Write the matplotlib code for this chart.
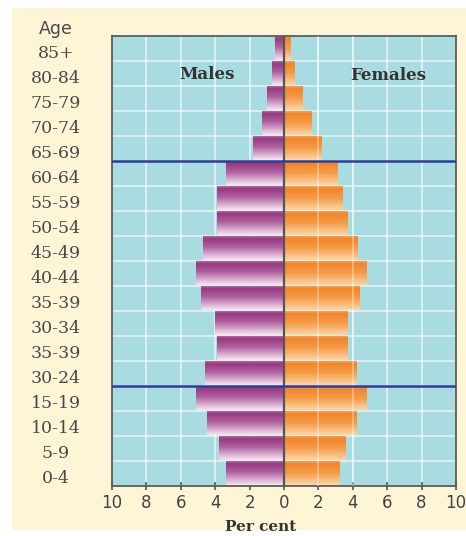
import numpy as np
import matplotlib
matplotlib.use("Agg")
import matplotlib.pyplot as plt
from matplotlib.colors import LinearSegmentedColormap
from matplotlib.patches import Rectangle
import matplotlib.transforms as mtransforms

# age groups from bottom to top (labels as printed in the source)
age_groups = ["0-4", "5-9", "10-14", "15-19", "30-24", "35-39", "30-34", "35-39",
              "40-44", "45-49", "50-54", "55-59", "60-64", "65-69", "70-74",
              "75-79", "80-84", "85+"]
males = [3.4, 3.8, 4.5, 5.1, 4.6, 3.9, 4.0, 4.8, 5.1, 4.7, 3.9, 3.9, 3.4,
         1.8, 1.3, 1.0, 0.7, 0.5]
females = [3.2, 3.6, 4.2, 4.8, 4.2, 3.7, 3.7, 4.4, 4.8, 4.3, 3.7, 3.4, 3.1,
           2.2, 1.6, 1.1, 0.6, 0.4]
xticks = [-10, -8, -6, -4, -2, 0, 2, 4, 6, 8, 10]
divider_rows = [12.5, 3.5]   # above 60-64 and above 10-14

male_cmap = LinearSegmentedColormap.from_list(
    "m", [(0, "#b56aa3"), (0.1, "#98387f"), (0.45, "#b0609e"), (1, "#f5e6f1")])
female_cmap = LinearSegmentedColormap.from_list(
    "f", [(0, "#f7a050"), (0.1, "#f2852a"), (0.5, "#f59c48"), (1, "#fcd5a8")])

fig = plt.figure(figsize=(4.66, 5.36), dpi=100)
fig.patch.set_facecolor("white")
fig.patches.append(Rectangle((12 / 466, 1 - 530 / 536), 454 / 466, 522 / 536,
                             transform=fig.transFigure, facecolor="#fdf5d6",
                             edgecolor="none", zorder=-10))

ax = fig.add_axes([112 / 466, 1 - 486 / 536, 344 / 466, 450 / 536])
ax.set_facecolor("#a9dce1")

y = np.arange(len(age_groups))
mbars = ax.barh(y, [-v for v in males], height=0.94, color="none", zorder=2)
fbars = ax.barh(y, females, height=0.94, color="none", zorder=2)

grad = np.linspace(0, 1, 64).reshape(-1, 1)
for bars, cmap in [(mbars, male_cmap), (fbars, female_cmap)]:
    for b in bars:
        x0, w = b.get_x(), b.get_width()
        y0, h = b.get_y(), b.get_height()
        ax.imshow(grad, cmap=cmap, aspect="auto", zorder=2,
                  extent=[min(x0, x0 + w), max(x0, x0 + w), y0, y0 + h],
                  origin="upper", interpolation="bilinear")

# faint grid showing through the female bars
for xv in [2, 4]:
    ax.axvline(xv, color="white", lw=1.2, alpha=0.4, zorder=3)

ax.set_xlim(-10, 10)
ax.set_ylim(-0.5, len(age_groups) - 0.5)

ax.set_xticks(xticks)
ax.set_xticklabels([str(abs(t)) for t in xticks])
ax.set_yticks(y)
ax.set_yticklabels([])
ax.set_yticks(np.arange(-0.5, len(age_groups), 1), minor=True)
ax.grid(True, which="major", axis="x", color="white", lw=1.2, alpha=0.65, zorder=1)
ax.grid(True, which="minor", axis="y", color="white", lw=1.2, alpha=0.65, zorder=1)
ax.set_axisbelow(True)
ax.tick_params(axis="y", which="both", length=0)
ax.tick_params(axis="x", direction="inout", length=6, width=1.2, color="#555555",
               labelsize=12, labelcolor="#444444", pad=3)

for s in ax.spines.values():
    s.set_color("#5a5a5a")
    s.set_linewidth(1.3)

ax.axvline(0, color="#555555", lw=1.6, zorder=4)
for r in divider_rows:
    ax.axhline(r, color="#2c3a9c", lw=1.8, zorder=4)

lab_off = mtransforms.ScaledTranslation(0, -5 / 100, fig.dpi_scale_trans)
trans = mtransforms.blended_transform_factory(ax.transAxes, ax.transData) + lab_off
for yi, lab in zip(y, age_groups):
    ax.text(-0.163, yi, lab, transform=trans, ha="center", va="center",
            fontsize=12.5, family="DejaVu Serif", color="#484848", clip_on=False)
ax.text(-0.163, len(age_groups), "Age", transform=trans, ha="center", va="center",
        fontsize=12.5, family="DejaVu Sans", color="#484848", clip_on=False)

ax.text(-4.5, 15.95, "Males", ha="center", va="center", fontsize=12,
        family="DejaVu Serif", fontweight="bold", color="#333333", zorder=5)
ax.text(6.05, 15.9, "Females", ha="center", va="center", fontsize=12,
        family="DejaVu Serif", fontweight="bold", color="#333333", zorder=5)
ax.text(0.433, -0.091, "Per cent", transform=ax.transAxes, ha="center", va="center",
        fontsize=11, family="DejaVu Serif", fontweight="bold", color="#333333")

fig.savefig("out.png", dpi=100, facecolor=fig.get_facecolor())
